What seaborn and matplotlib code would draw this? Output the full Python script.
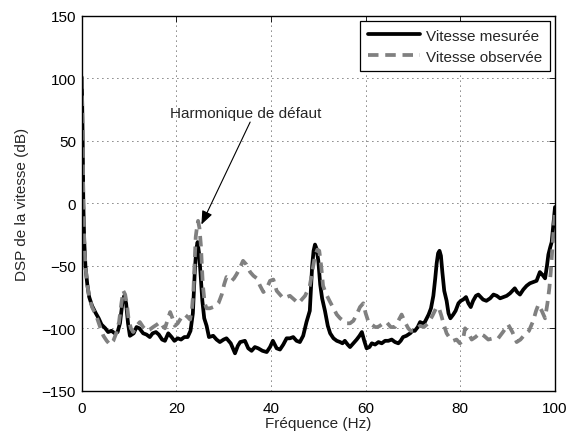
import matplotlib
matplotlib.use("Agg")
import matplotlib.pyplot as plt
import seaborn as sns
import pandas as pd

# Spectral density of the speed: measured signal
freq_mesuree = [
    0, 0.1, 0.23, 0.36, 0.55, 0.8, 1.2, 1.6, 2.2, 3.0,
    3.6, 4.2, 5.0, 5.6, 6.3, 7.0, 7.6, 8.1, 8.6, 9.0,
    9.4, 9.8, 10.2, 11.0, 11.6, 12.2, 13.0, 13.7, 14.4, 15.0,
    15.7, 16.3, 17.0, 17.6, 18.3, 19.0, 19.6, 20.3, 21.0, 21.7,
    22.4, 23.0, 23.5, 23.9, 24.2, 24.5, 24.8, 25.1, 25.5, 25.9,
    26.4, 26.9, 27.8, 28.5, 29.2, 30.0, 30.6, 31.5, 32.4, 33.0,
    33.5, 34.5, 35.2, 35.9, 36.6, 37.3, 38.2, 39.1, 39.8, 40.4,
    41.2, 41.9, 42.6, 43.3, 44.0, 44.7, 45.4, 46.1, 46.8, 47.5,
    48.2, 48.7, 49.0, 49.3, 49.6, 50.0, 50.4, 50.8, 51.4, 52.0,
    52.5, 53.2, 53.9, 54.6, 55.1, 55.6, 56.2, 56.7, 57.4, 58.1,
    58.7, 59.2, 59.7, 60.2, 60.8, 61.3, 62.0, 62.7, 63.4, 64.1,
    64.8, 65.5, 66.2, 66.9, 67.4, 67.9, 68.6, 69.4, 69.9, 70.4,
    71.0, 71.5, 72.0, 72.5, 72.9, 73.3, 73.8, 74.3, 74.7, 75.0,
    75.3, 75.6, 75.9, 76.2, 76.6, 77.1, 77.5, 77.9, 78.5, 79.0,
    79.6, 80.1, 80.6, 81.2, 81.7, 82.2, 82.7, 83.3, 83.8, 84.3,
    84.8, 85.5, 86.3, 87.0, 87.7, 88.4, 89.1, 89.8, 90.5, 91.0,
    91.5, 92.0, 92.6, 93.3, 94.0, 94.7, 95.4, 96.1, 96.8, 97.3,
    97.9, 98.3, 98.6, 99.0, 99.3, 99.7, 100.0,
]
dsp_mesuree = [
    101, 85, 50, 0, -30, -50, -65, -75, -82, -88,
    -92, -97, -100, -103, -102, -104, -103, -96, -80, -74,
    -80, -96, -106, -104, -99, -100, -104, -105, -107, -104,
    -103, -105, -109, -110, -104, -107, -110, -108, -109, -107,
    -107, -102, -88, -55, -37, -31, -40, -55, -78, -92,
    -98, -107, -106, -109, -111, -109, -108, -112, -120, -114,
    -111, -110, -116, -118, -115, -116, -118, -119, -115, -110,
    -116, -117, -113, -108, -108, -107, -110, -111, -106, -95,
    -86, -50, -38, -33, -36, -46, -65, -76, -86, -98,
    -104, -108, -110, -111, -112, -110, -113, -115, -112, -109,
    -106, -103, -110, -116, -115, -112, -113, -111, -112, -110,
    -110, -109, -111, -112, -110, -107, -106, -104, -102, -102,
    -99, -95, -96, -95, -92, -89, -84, -74, -60, -48,
    -40, -38, -42, -55, -70, -78, -88, -92, -89, -86,
    -80, -78, -77, -75, -80, -83, -78, -74, -73, -75,
    -77, -78, -76, -73, -74, -76, -75, -74, -72, -70,
    -68, -71, -73, -69, -66, -64, -63, -62, -55, -57,
    -60, -50, -41, -35, -31, -15, -3,
]

# Spectral density of the speed: observer estimate
freq_observee = [
    0, 0.1, 0.23, 0.36, 0.55, 0.8, 1.2, 1.6, 2.2, 3.1,
    4.0, 4.6, 5.3, 6.0, 6.7, 7.3, 7.9, 8.4, 8.8, 9.2,
    9.6, 9.9, 10.4, 10.9, 11.6, 12.3, 13.0, 13.7, 14.4, 15.1,
    15.9, 16.6, 17.1, 17.6, 18.2, 18.7, 19.2, 19.7, 20.3, 20.8,
    21.3, 21.8, 22.4, 22.9, 23.3, 23.6, 23.9, 24.1, 24.4, 24.6,
    24.9, 25.2, 25.6, 26.0, 26.4, 27.1, 27.8, 28.4, 28.9, 29.6,
    30.1, 30.6, 31.2, 31.7, 32.2, 32.7, 33.4, 34.1, 34.8, 35.6,
    36.3, 37.0, 37.7, 38.4, 39.1, 39.8, 40.5, 41.2, 41.9, 42.6,
    43.3, 44.0, 44.9, 45.8, 46.5, 47.2, 47.7, 48.2, 48.7, 49.3,
    49.8, 50.2, 50.6, 51.0, 51.7, 52.5, 53.2, 53.9, 54.6, 55.3,
    56.0, 56.7, 57.4, 58.1, 58.8, 59.5, 60.0, 60.6, 61.3, 62.0,
    62.5, 63.0, 63.7, 64.4, 65.3, 66.2, 66.9, 67.6, 68.3, 69.0,
    69.5, 70.1, 70.8, 71.5, 72.3, 73.2, 74.1, 75.0, 75.5, 76.0,
    76.5, 77.1, 77.8, 78.5, 79.2, 79.9, 80.5, 81.0, 81.7, 82.4,
    83.2, 84.1, 85.0, 85.9, 86.9, 88.0, 89.0, 90.1, 91.0, 91.9,
    92.7, 93.6, 94.5, 95.4, 96.0, 96.5, 97.2, 97.9, 98.4, 98.8,
    99.1, 99.4, 99.7, 100.0,
]
dsp_observee = [
    100, 84, 50, 0, -30, -50, -65, -75, -83, -90,
    -100, -106, -110, -113, -110, -104, -95, -80, -70, -73,
    -82, -92, -100, -103, -98, -95, -99, -102, -101, -99,
    -97, -95, -98, -100, -93, -87, -92, -98, -96, -93,
    -90, -89, -91, -93, -85, -71, -45, -27, -18, -14,
    -20, -34, -65, -80, -84, -84, -83, -82, -80, -73,
    -65, -59, -60, -62, -60, -57, -52, -46, -49, -55,
    -58, -60, -66, -71, -68, -62, -61, -70, -73, -76,
    -75, -74, -77, -80, -77, -74, -70, -66, -55, -42,
    -37, -38, -50, -66, -73, -79, -84, -89, -92, -94,
    -96, -96, -94, -89, -83, -80, -88, -95, -97, -99,
    -99, -98, -96, -95, -99, -99, -94, -89, -95, -100,
    -102, -102, -100, -98, -99, -96, -90, -83, -84, -90,
    -97, -104, -108, -110, -109, -112, -110, -100, -104, -109,
    -107, -104, -106, -109, -108, -108, -103, -97, -103, -111,
    -109, -105, -102, -94, -86, -81, -86, -92, -80, -68,
    -55, -38, -22, -5,
]

labels = ["Vitesse mesurée", "Vitesse observée"]
x_ticks = [0, 20, 40, 60, 80, 100]
y_ticks = [-150, -100, -50, 0, 50, 100, 150]

sns.set_style("white")
plt.rcParams["font.family"] = ["Liberation Sans", "DejaVu Sans"]
plt.rcParams["font.size"] = 11

fig = plt.figure(figsize=(5.72, 4.39), dpi=100)
ax = fig.add_axes([0.1427, 0.1075, 0.8276, 0.8542])

df_m = pd.DataFrame({"f": freq_mesuree, "dsp": dsp_mesuree})
df_o = pd.DataFrame({"f": freq_observee, "dsp": dsp_observee})

sns.lineplot(data=df_m, x="f", y="dsp", ax=ax, color="black", linewidth=2.7,
             estimator=None, sort=False, label=labels[0])
sns.lineplot(data=df_o, x="f", y="dsp", ax=ax, color="#808080", linewidth=2.7,
             linestyle=(0, (2.8, 1.8)), estimator=None, sort=False, label=labels[1])

ax.set_xlim(0, 100)
ax.set_ylim(-150, 150)
ax.set_xticks(x_ticks)
ax.set_yticks(y_ticks)
ax.set_xlabel("Fréquence (Hz)", fontsize=11, labelpad=1)
ax.set_ylabel("DSP de la vitesse (dB)", fontsize=11, labelpad=9)

ax.grid(True, color="black", linestyle=(0, (1, 5)), linewidth=0.6)
for side in ["top", "right", "bottom", "left"]:
    ax.spines[side].set_visible(True)
    ax.spines[side].set_color("black")
    ax.spines[side].set_linewidth(1.0)
ax.tick_params(direction="in", length=4, width=0.6, top=True, right=True,
               labelsize=11, colors="black")
ax.tick_params(axis="x", pad=7)
ax.tick_params(axis="y", pad=4)

# Defect harmonic annotation
ax.annotate("", xy=(25.3, -17), xytext=(35.6, 65),
            arrowprops=dict(arrowstyle="-|>,head_length=0.55,head_width=0.22",
                            color="black", lw=0.8, shrinkA=0, shrinkB=0,
                            mutation_scale=15))
ax.text(34.6, 72, "Harmonique de défaut", ha="center", va="center", fontsize=11)

leg = ax.legend(loc="upper right", frameon=True, fancybox=False, framealpha=1,
                edgecolor="black", handlelength=3.4, handletextpad=0.4,
                borderpad=0.5, labelspacing=0.45, borderaxespad=0.35, fontsize=11)
leg.get_frame().set_linewidth(0.9)

fig.savefig("out.png", dpi=100, facecolor="white")
